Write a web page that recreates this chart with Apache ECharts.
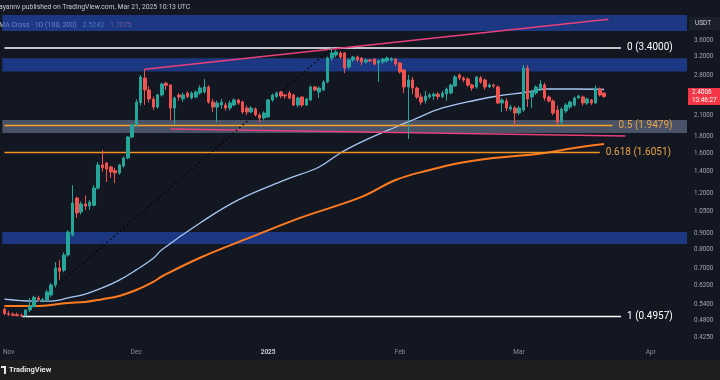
<!DOCTYPE html>
<html><head><meta charset="utf-8">
<script src="https://cdn.jsdelivr.net/npm/echarts@6/dist/echarts.min.js"></script>
<style>html,body{margin:0;padding:0;background:#131722;}#c{width:720px;height:380px;}</style>
</head><body><div id="c"></div>
<script>
// ---------- data ----------
const axisStartUTC = Date.UTC(2024, 9, 31);
const axisDayCount = 161;               // Oct 31 2024 .. Apr 9 2025
// [open, close, low, high], daily from Oct 31 2024 to Mar 21 2025
const candles = [
[0.522,0.506,0.500,0.528],
[0.506,0.503,0.497,0.515],[0.503,0.500,0.496,0.510],[0.502,0.498,0.496,0.509],[0.500,0.497,0.4957,0.506],
[0.498,0.519,0.496,0.522],[0.519,0.534,0.512,0.566],[0.532,0.568,0.528,0.575],[0.566,0.560,0.552,0.575],
[0.555,0.560,0.548,0.566],[0.557,0.590,0.553,0.600],[0.578,0.621,0.570,0.630],[0.621,0.702,0.610,0.732],
[0.702,0.685,0.644,0.743],[0.690,0.770,0.680,0.785],[0.770,0.908,0.760,0.920],[0.889,1.118,0.880,1.27],
[1.159,1.041,1.004,1.17],[1.049,1.110,1.030,1.13],[1.110,1.094,1.064,1.18],[1.094,1.125,1.064,1.143],
[1.100,1.245,1.090,1.27],[1.245,1.469,1.230,1.50],[1.469,1.440,1.400,1.636],[1.490,1.427,1.300,1.50],
[1.448,1.397,1.340,1.46],[1.410,1.387,1.290,1.44],[1.387,1.469,1.370,1.48],[1.458,1.544,1.440,1.56],
[1.544,1.795,1.530,1.81],[1.795,1.957,1.780,1.97],
[1.957,2.307,1.930,2.35],[2.300,2.761,2.250,2.80],[2.741,2.515,2.260,2.92],[2.515,2.358,2.300,2.58],
[2.358,2.226,2.180,2.40],[2.226,2.427,2.200,2.45],[2.427,2.626,2.400,2.65],[2.640,2.600,2.515,2.664],
[2.607,2.210,2.028,2.62],[2.210,2.375,1.960,2.40],[2.427,2.392,2.330,2.46],[2.360,2.427,2.310,2.47],
[2.460,2.400,2.370,2.49],[2.375,2.461,2.350,2.49],[2.392,2.479,2.370,2.51],[2.461,2.551,2.430,2.60],
[2.480,2.570,2.450,2.72],[2.570,2.307,2.280,2.60],[2.307,2.226,2.150,2.36],[2.226,2.291,2.000,2.33],
[2.258,2.307,2.200,2.36],[2.258,2.210,2.170,2.30],[2.210,2.291,2.170,2.33],[2.258,2.341,2.240,2.37],
[2.341,2.291,2.260,2.36],[2.307,2.148,2.120,2.33],[2.210,2.148,2.100,2.25],[2.148,2.210,2.130,2.24],
[2.194,2.102,2.080,2.22],[2.102,2.057,2.000,2.13],[2.057,2.132,2.030,2.16],
[2.072,2.341,2.060,2.36],[2.341,2.427,2.310,2.45],[2.400,2.461,2.370,2.49],[2.479,2.409,2.370,2.50],
[2.427,2.409,2.360,2.44],[2.461,2.375,2.350,2.50],[2.427,2.258,2.240,2.45],[2.258,2.375,2.220,2.40],
[2.392,2.258,2.230,2.40],[2.258,2.358,2.240,2.38],[2.341,2.570,2.330,2.60],[2.570,2.515,2.490,2.59],
[2.479,2.551,2.375,2.58],[2.515,2.664,2.500,2.70],[2.664,3.164,2.640,3.20],[3.164,3.280,3.100,3.40],
[3.233,3.303,3.180,3.35],[3.280,3.187,3.140,3.32],[3.280,2.945,2.840,3.30],[2.966,3.119,2.930,3.16],
[3.119,3.187,3.080,3.21],[3.187,3.120,3.070,3.22],[3.164,3.075,3.000,3.18],[3.075,3.120,3.040,3.15],
[3.120,3.100,3.070,3.14],[3.140,3.030,3.000,3.16],[3.050,3.100,2.664,3.13],[3.075,3.140,3.030,3.16],
[3.100,3.164,3.060,3.20],[3.120,3.150,3.080,3.18],[3.140,3.030,2.980,3.17],
[3.053,2.862,2.830,3.07],[2.903,2.570,2.461,2.92],[2.570,2.702,1.770,2.80],[2.702,2.551,2.440,2.76],
[2.551,2.392,2.360,2.58],[2.392,2.307,2.260,2.45],[2.330,2.409,2.280,2.50],[2.392,2.427,2.360,2.46],
[2.409,2.440,2.340,2.47],[2.440,2.400,2.350,2.48],[2.400,2.460,2.370,2.50],[2.443,2.533,2.330,2.56],
[2.461,2.607,2.440,2.63],[2.588,2.761,2.570,2.80],[2.801,2.741,2.700,2.83],[2.741,2.702,2.660,2.77],
[2.720,2.607,2.570,2.76],[2.607,2.551,2.500,2.63],[2.570,2.761,2.540,2.78],[2.741,2.664,2.630,2.78],
[2.702,2.570,2.520,2.73],[2.570,2.607,2.550,2.64],[2.607,2.588,2.550,2.63],[2.570,2.291,2.270,2.60],
[2.291,2.341,2.148,2.37],[2.324,2.210,2.160,2.37],[2.194,2.226,2.160,2.26],[2.210,2.132,1.930,2.24],
[2.132,2.210,2.100,2.24],[2.178,2.945,2.150,3.01],[2.945,2.358,2.226,3.00],[2.392,2.479,2.210,2.52],
[2.461,2.570,2.430,2.60],[2.533,2.626,2.500,2.70],[2.607,2.375,2.330,2.65],[2.392,2.324,2.300,2.42],
[2.324,2.132,2.100,2.35],[2.178,2.000,1.960,2.25],[2.000,2.194,1.960,2.22],[2.163,2.258,2.130,2.29],
[2.226,2.307,2.190,2.33],[2.258,2.375,2.230,2.40],[2.375,2.409,2.360,2.43],[2.392,2.291,2.250,2.42],
[2.291,2.358,2.260,2.38],[2.341,2.291,2.260,2.36],[2.291,2.551,2.280,2.60],[2.533,2.427,2.400,2.56],
[2.461,2.4006,2.380,2.47]
];
const ma100Dates = ['2024-10-31','2024-11-07','2024-11-11','2024-11-15','2024-11-19','2024-11-23','2024-11-27','2024-12-01','2024-12-05','2024-12-07','2024-12-16','2024-12-25','2025-01-05','2025-01-13','2025-01-18','2025-01-23','2025-01-31','2025-02-04','2025-02-11','2025-02-19','2025-02-24','2025-03-03','2025-03-07','2025-03-14','2025-03-21'];
const ma100Vals  = [0.561,0.553,0.553,0.566,0.582,0.608,0.643,0.692,0.752,0.800,0.969,1.143,1.319,1.448,1.601,1.733,1.929,2.028,2.211,2.341,2.409,2.479,2.533,2.533,2.5242];
const ma200Dates = ['2024-10-31','2024-11-07','2024-11-15','2024-11-19','2024-11-23','2024-11-27','2024-12-01','2024-12-05','2024-12-07','2024-12-16','2024-12-28','2025-01-09','2025-01-23','2025-01-31','2025-02-08','2025-02-15','2025-02-23','2025-03-03','2025-03-07','2025-03-14','2025-03-21'];
const ma200Vals  = [0.534,0.534,0.546,0.550,0.561,0.574,0.599,0.635,0.660,0.755,0.875,1.010,1.168,1.319,1.417,1.490,1.544,1.578,1.601,1.659,1.7075];
const yTickLabels = ['3.6000','3.2000','2.8000','2.1000','1.8000','1.6000','1.4000','1.2000','1.0500','0.9000','0.8000','0.7000','0.6200','0.5400','0.4800','0.4250'];
const monthNames = {'01':'2025','02':'Feb','03':'Mar','04':'Apr','11':'Nov','12':'Dec'};
const fibLevels = [
  {name:'0 (3.4000)', value:3.4000, from:'2024-10-31', to:'2025-03-25', color:'#ffffff', text:'#ffffff'},
  {name:'0.5 (1.9479)', value:1.9479, from:'2024-10-31', to:'2025-03-23', color:'#f5a02a', text:'#e9a447'},
  {name:'0.618 (1.6051)', value:1.6051, from:'2024-10-31', to:'2025-03-20', color:'#f39422', text:'#e9a447'},
  {name:'1 (0.4957)', value:0.4957, from:'2024-11-04', to:'2025-03-25', color:'#ffffff', text:'#ffffff'}
];
const zones = [
  {lo:3.84, hi:4.31, color:'rgba(36,78,190,0.62)'},
  {lo:2.87, hi:3.16, color:'rgba(36,78,190,0.62)'},
  {lo:1.848, hi:2.028, color:'rgba(122,136,165,0.52)'},
  {lo:0.833, hi:0.908, color:'rgba(36,78,190,0.62)'}
];
const upperTrend = [['2024-12-03',2.92],['2025-03-22',4.18]];
const lowerTrend = [['2024-12-09',1.901],['2025-03-26',1.808]];
const fibDiagonal = [['2024-11-04',0.4957],['2025-01-16',3.40]];
const lastPrice = 2.4006, lastPriceTimer = '13:46:27';
const ma100Last = '2.5242', ma200Last = '1.7075';

// ---------- build ----------
const L = Math.log10;
const categories = [];
for (let i = 0; i < axisDayCount; i++) categories.push(new Date(axisStartUTC + i*864e5).toISOString().slice(0,10));
const candleData = candles.map(c => c.map(L));
const toPts = (dates, vals) => dates.map((d,i)=>[d, L(vals[i])]);
const FONT = 'Roboto';

const series = [];
series.push({
  type:'candlestick', data: candleData, barWidth: 3, z: 5, clip:false,
  itemStyle:{color:'#26a69a', color0:'#ef5350', borderColor:'#26a69a', borderColor0:'#ef5350', borderWidth:1},
  markArea:{silent:true, data: zones.map(z=>[{yAxis:L(z.lo), itemStyle:{color:z.color}},{yAxis:L(z.hi)}])},
  markLine:{silent:true, symbol:'none', animation:false,
    data:[{yAxis:L(lastPrice), lineStyle:{color:'rgba(0,0,0,0)', width:0.01, opacity:1},
      label:{show:true, position:'end', distance:1, opacity:1, formatter: lastPrice.toFixed(4)+'\n'+lastPriceTimer,
        backgroundColor:'#f23645', color:'#ffffff', fontSize:6.4, lineHeight:7.5, padding:[1,6,1,4], fontFamily:FONT}}]}
});
series.push({type:'line', data: toPts(ma100Dates, ma100Vals), smooth:0.4, symbol:'none', z:3,
  lineStyle:{color:'#a8c8f2', width:1.3}});
series.push({type:'line', data: toPts(ma200Dates, ma200Vals), smooth:0.4, symbol:'none', z:3,
  lineStyle:{color:'#ff7b1f', width:2}});
fibLevels.forEach(f => series.push({type:'line', symbol:'none', z:4,
  data:[[f.from, L(f.value)],[f.to, L(f.value)]], lineStyle:{color:f.color, width:1.5},
  endLabel:{show:true, formatter:()=>f.name, color:f.text, fontSize:10, distance:6, fontFamily:FONT}}));
series.push({type:'line', symbol:'none', z:4, data: upperTrend.map(p=>[p[0],L(p[1])]), lineStyle:{color:'#e8407c', width:1.5}});
series.push({type:'line', symbol:'none', z:4, data: lowerTrend.map(p=>[p[0],L(p[1])]), lineStyle:{color:'#e8407c', width:1.5}});
series.push({type:'line', symbol:'none', z:4, data: fibDiagonal.map(p=>[p[0],L(p[1])]), lineStyle:{color:'#050505', width:1.5, type:[1.5,3]}});

const tickVals = yTickLabels.map(Number);
const chart = echarts.init(document.getElementById('c'), null, {renderer:'canvas'});
chart.setOption({
  backgroundColor:'#131722', animation:false,
  grid:{left:-2, right:33, top:14, bottom:35},
  xAxis:{type:'category', data:categories, boundaryGap:true,
    axisLine:{show:false}, axisTick:{show:false}, splitLine:{show:false},
    axisLabel:{interval:(i,v)=>v.slice(8)==='01', formatter:v=>{const m=monthNames[v.slice(5,7)]; return m==='2025'?'{b|2025}':m;},
      color:'#8c8f99', fontSize:6.5, margin:4, fontFamily:FONT, rich:{b:{color:'#c9ccd4', fontSize:6.5, fontWeight:'bold', fontFamily:FONT}}}},
  yAxis:{type:'value', position:'right', min:-0.3939, max:0.6373, scale:true,
    axisLine:{show:false}, axisTick:{show:false}, splitLine:{show:false},
    axisLabel:{customValues: tickVals.map(L), color:'#a3a6af', fontSize:6.3, margin:7, align:'left', fontFamily:FONT,
      formatter:v=>{let b=0,bd=1e9; tickVals.forEach((t,i)=>{const d=Math.abs(L(t)-v); if(d<bd){bd=d;b=i;}}); return yTickLabels[b];}}},
  series,
  graphic:[
    {type:'text', left:-1, top:4, style:{text:'ayannv published on TradingView.com, Mar 21, 2025 10:13 UTC', fill:'#c9cbd1', fontSize:6.8, fontFamily:FONT}},
    {type:'text', left:-1, top:19, style:{text:'{a|MA Cross · 1D (100, 200)}  {b|'+ma100Last+'}  {c|'+ma200Last+'}', fontFamily:FONT,
      rich:{a:{fill:'#d4d6dc', fontSize:7, fontFamily:FONT}, b:{fill:'#8fb6f0', fontSize:7, fontFamily:FONT}, c:{fill:'#f0686c', fontSize:7, fontFamily:FONT}}}},
    {type:'rect', shape:{x:689, y:17, width:31, height:13}, style:{fill:'#1c202b'}},
    {type:'text', left:695, top:20, style:{text:'USDT', fill:'#d1d4dc', fontSize:6.5, fontFamily:FONT}},
    {type:'rect', shape:{x:0, y:360, width:720, height:20}, style:{fill:'#1e1e1e'}},
    {type:'polygon', shape:{points:[[1,366],[6,366],[6,374],[4,374],[4,368],[1,368]]}, style:{fill:'#e6e6e6'}},
    {type:'text', left:9, top:366, style:{text:'TradingView', fill:'#e6e6e6', fontSize:7.5, fontFamily:FONT, fontWeight:'bold'}}
  ]
});
</script></body></html>
